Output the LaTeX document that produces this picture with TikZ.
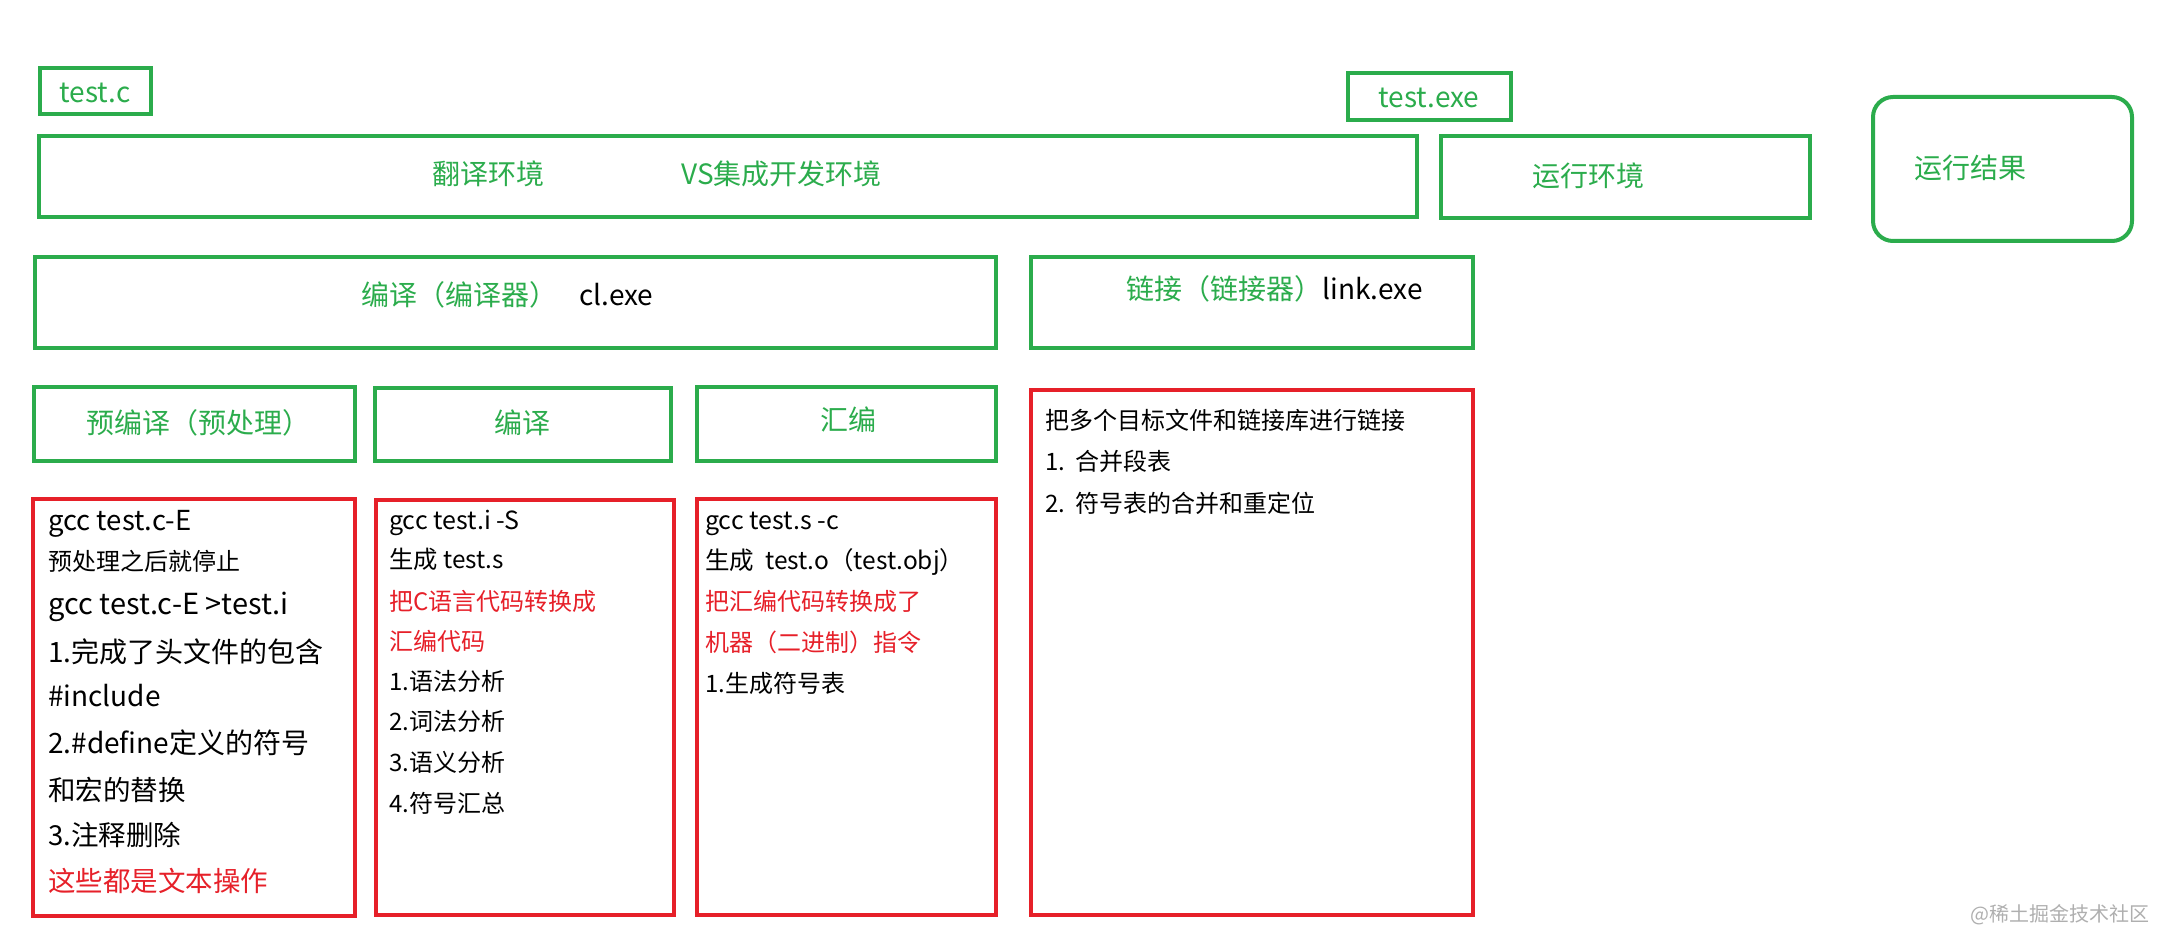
\documentclass[tikz,border=0pt]{standalone}
\usepackage{fontspec}
\setmainfont{Noto Sans CJK SC}
\usetikzlibrary{fit}
\definecolor{mygreen}{RGB}{43,172,76}
\definecolor{myred}{RGB}{230,32,41}
\definecolor{wmgray}{RGB}{175,175,175}
\newcommand{\fs}[1]{\fontsize{#1}{#1}\selectfont}
\tikzset{
  gbox/.style={draw=mygreen, line width=4pt, inner sep=-2pt},
  rbox/.style={draw=myred, line width=4pt, inner sep=-2pt},
  lbl/.style={inner sep=0pt, anchor=base west},
  glbl/.style={inner sep=0pt, anchor=base, text=mygreen, font=\fs{28}},
}
\begin{document}
\begin{tikzpicture}[x=1pt,y=-1pt]
\useasboundingbox (0,0) rectangle (2158,933);
% boxes
\node[gbox, fit={(38,66) (153,116)}] (bc) {};
\node[gbox, fit={(1346,71) (1513,122)}] (bexe) {};
\node[gbox, fit={(37,134) (1419,219)}] (btrans) {};
\node[gbox, fit={(1439,134) (1812,220)}] (brun) {};
\node[gbox, rounded corners=20pt, fit={(1871,95) (2134,243)}] (bres) {};
\node[gbox, fit={(33,255) (998,350)}] (bcomp) {};
\node[gbox, fit={(1029,255) (1475,350)}] (blink) {};
\node[gbox, fit={(32,385) (357,463)}] (bpre) {};
\node[gbox, fit={(373,386) (673,463)}] (bcc) {};
\node[gbox, fit={(695,385) (998,463)}] (basm) {};
\node[rbox, fit={(31,497) (357,918)}] (r1) {};
\node[rbox, fit={(374,498) (676,917)}] (r2) {};
\node[rbox, fit={(695,497) (998,917)}] (r3) {};
\node[rbox, fit={(1029,388) (1475,917)}] (r4) {};
% green labels
\node[glbl] (tc) at (95,102.4) {test.c};
\node[glbl] (texe) at (1429,107.1) {test.exe};
\node[glbl] (ttrans) at (488.6,185) {翻译环境};
\node[glbl] (tvs) at (781.7,185) {VS集成开发环境};
\node[glbl] (trun) at (1588,187) {运行环境};
\node[glbl] (tres) at (1970,178.5) {运行结果};
\node[glbl, anchor=base east] (tcomp) at (557.4,306) {编译（编译器）};
\node[lbl, font=\fs{28}] (tcl) at (579.4,306) {cl.exe};
\node[glbl, anchor=base west] (tlink) at (1125.8,300) {链接（链接器）};
\node[lbl, font=\fs{28}, anchor=base west] (tlexe) at (tlink.base east) {link.exe};
\node[glbl] (tpre) at (198,433) {预编译（预处理）};
\node[glbl] (tcc) at (522,433) {编译};
\node[glbl] (tasm) at (848.5,430) {汇编};
% box 1
\node[lbl, font=\fs{27.5}] (a1) at (48,530.5) {gcc test.c-E};
\node[lbl, font=\fs{24}] (a2) at (48,570.6) {预处理之后就停止};
\node[lbl, font=\fs{29}] (a3) at (48,614.7) {gcc test.c-E >test.i};
\node[lbl, font=\fs{28}] (a4) at (48,662.4) {1.完成了头文件的包含};
\node[lbl, font=\fs{28}] (a5) at (48,706.9) {\#include};
\node[lbl, font=\fs{28}] (a6) at (48,753.7) {2.\#define定义的符号};
\node[lbl, font=\fs{27.5}] (a7) at (48,800.2) {和宏的替换};
\node[lbl, font=\fs{27.5}] (a8) at (48,845.2) {3.注释删除};
\node[lbl, font=\fs{27.5}, text=myred] (a9) at (48,891.2) {这些都是文本操作};
% box 2
\node[lbl, font=\fs{25}] (b1) at (389,529.4) {gcc test.i -S};
\node[lbl, font=\fs{24.3}] (b2) at (389,568.9) {生成 test.s};
\node[lbl, font=\fs{24}, text=myred] (b3) at (389,610.3) {把C语言代码转换成};
\node[lbl, font=\fs{24}, text=myred] (b4) at (389,650.3) {汇编代码};
\node[lbl, font=\fs{24}] (b5) at (389,690.2) {1.语法分析};
\node[lbl, font=\fs{24}] (b6) at (389,730.1) {2.词法分析};
\node[lbl, font=\fs{24}] (b7) at (389,771.4) {3.语义分析};
\node[lbl, font=\fs{24}] (b8) at (389,812.7) {4.符号汇总};
% box 3
\node[lbl, font=\fs{25}] (c1) at (705,529.5) {gcc test.s -c};
\node[lbl, font=\fs{24.5}] (c2) at (705,569.5) {生成\ \ test.o（test.obj）};
\node[lbl, font=\fs{24}, text=myred] (c3) at (705,610.5) {把汇编代码转换成了};
\node[lbl, font=\fs{24}, text=myred] (c4) at (705,651) {机器（二进制）指令};
\node[lbl, font=\fs{24}] (c5) at (705,692) {1.生成符号表};
% box 4
\node[lbl, font=\fs{24}] (d1) at (1045,429) {把多个目标文件和链接库进行链接};
\node[lbl, font=\fs{24}] (d2) at (1045,470.6) {1.\ \ 合并段表};
\node[lbl, font=\fs{24}] (d3) at (1045,512.2) {2.\ \ 符号表的合并和重定位};
% watermark
\node[inner sep=0pt, anchor=base east, font=\fs{20}, text=wmgray] (wm) at (2150,921) {@稀土掘金技术社区};
\end{tikzpicture}
\end{document}
